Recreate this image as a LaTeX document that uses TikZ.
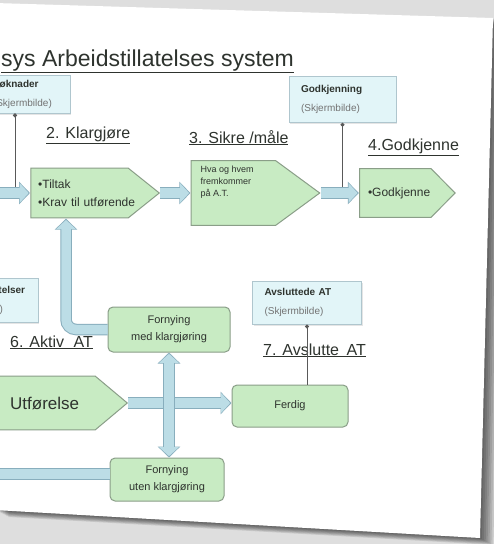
\documentclass[tikz,border=0pt]{standalone}
\usepackage{fontspec}
\setmainfont{Liberation Sans}
\usetikzlibrary{positioning, arrows.meta, calc, shadows}

\definecolor{greenfill}{HTML}{C8EBC3}
\definecolor{greenedge}{HTML}{8A9E88}
\definecolor{bluefill}{HTML}{E2F5F8}
\definecolor{blueedge}{HTML}{AFC6CE}
\definecolor{arrowfill}{HTML}{BCDDE6}
\definecolor{arrowedge}{HTML}{88AEBD}
\definecolor{inkgray}{HTML}{2E332E}

% pentagon drawn inside the node box, tip depth as argument
\newcommand{\pentapath}[1]{%
  ([shift={(0.6pt,-0.6pt)}]path picture bounding box.north west) --
  ([shift={(-#1,-0.6pt)}]path picture bounding box.north east) --
  ([xshift=-0.9pt]path picture bounding box.east) --
  ([shift={(-#1,0.6pt)}]path picture bounding box.south east) --
  ([shift={(0.6pt,0.6pt)}]path picture bounding box.south west) -- cycle}

\tikzset{
  arrowbox/.style={rectangle, inner xsep=8pt, inner ysep=3pt, align=left, text=inkgray,
    font=\fontsize{12}{18}\selectfont,
    path picture={\draw[fill=greenfill, draw=greenedge, line width=1pt] \pentapath{#1};}},
  roundbox/.style={rectangle, rounded corners=5pt, fill=greenfill, draw=greenedge, line width=1pt,
    align=center, text=inkgray, font=\fontsize{11}{17}\selectfont},
  screenbox/.style={rectangle, fill=bluefill, draw=blueedge, line width=0.8pt, align=left,
    inner xsep=12pt, text width=#1, text=inkgray, font=\fontsize{10}{19}\selectfont,
    drop shadow={shadow xshift=1pt, shadow yshift=-1.5pt, opacity=0.2}},
  steplabel/.style={inner sep=0pt, text=inkgray, font=\fontsize{16}{19}\selectfont},
  dotline/.style={draw=black!65, line width=0.8pt, {Circle[length=4pt]}-},
  blockline/.style={draw=arrowfill, line width=9.5pt,
    preaction={draw=arrowedge, line width=11.5pt}},
  blockarrow/.style={draw=arrowfill, line width=9.5pt, -{Triangle[width=19pt,length=9pt]}, shorten >=1.3pt,
    preaction={draw=arrowedge, line width=11.5pt, -{Triangle[width=22pt,length=11pt]}, shorten >=0pt}},
  blockboth/.style={draw=arrowfill, line width=9.5pt, {Triangle[width=19pt,length=9pt]}-{Triangle[width=19pt,length=9pt]},
    shorten >=1.3pt, shorten <=1.3pt,
    preaction={draw=arrowedge, line width=11.5pt, {Triangle[width=22pt,length=11pt]}-{Triangle[width=22pt,length=11pt]},
      shorten >=0pt, shorten <=0pt}},
}

\newcommand{\skjerm}{{\color{black!55}(Skjermbilde)}}

\begin{document}
\begin{tikzpicture}[x=1pt, y=-1pt]
  \useasboundingbox (0,0) rectangle (494,544);
  % photo background and slide shadow
  \fill[black!13] (0,0) rectangle (494,544);
  \foreach \s in {1,...,7}
    \fill[black, opacity=0.1, shift={(\s*1.9,\s*1.0)}] (-5,3) -- (493,18) -- (480,538) -- (-5,510) -- cycle;
  \fill[white] (-5,3) -- (493,18) -- (480,538) -- (-5,510) -- cycle;

  \begin{scope}
  \clip (-5,3) -- (493,18) -- (480,538) -- (-5,510) -- cycle;

  \node[steplabel, font=\fontsize{23}{27}\selectfont, anchor=base west] (title) at (1,66) {\underline{sys Arbeidstillatelses system}};

  % top row
  \node[arrowbox=32pt, anchor=west, text width=114pt, minimum height=51pt] (tiltak) at (30,193) {•Tiltak\\•Krav til utførende};
  \node[arrowbox=45pt, right=30pt of tiltak, inner xsep=10pt, minimum width=130pt, minimum height=66pt,
        font=\fontsize{9}{12}\selectfont] (sikre)
        {\raisebox{0pt}[\height][\dimexpr\depth+22pt\relax]{\parbox{110pt}{\raggedright Hva og hvem\\fremkommer\\på A.T.}}};
  \node[arrowbox=25pt, right=38pt of sikre, inner xsep=9pt, text width=79pt, minimum height=50pt] (godk) {•Godkjenne};

  \node[screenbox=65pt, minimum height=38pt] (sok) at (25.5,94) {\textbf{Søknader}\\\skjerm};
  \node[screenbox=83pt, minimum height=46pt, above=45pt of godk, xshift=-65pt] (godkj) {\textbf{Godkjenning}\\\skjerm};

  \node[steplabel, anchor=base west] (klarg) at (46,138) {\underline{2. Klargjøre}};
  \node[steplabel, anchor=base west] (sikrel) at (189,143) {\underline{3. Sikre /måle}};
  \node[steplabel, anchor=base west] (godkl) at (368,150) {\underline{4.Godkjenne}};

  % middle and bottom
  \node[screenbox=82pt, minimum height=44pt] (arb) at (-15,300) {\textbf{Arbeidstillatelser}\\\skjerm};
  \node[roundbox, minimum width=122pt, minimum height=45pt] (fmed) at (169,329.5) {Fornying\\med klargjøring};
  \node[roundbox, minimum width=114pt, minimum height=43pt, below=105pt of fmed, xshift=-2pt] (futen) {Fornying\\uten klargjøring};
  \node[arrowbox=33pt, anchor=west, inner xsep=12pt, text width=106pt, minimum height=55pt,
        font=\fontsize{17}{20}\selectfont] (utf) at (-2,403) {Utførelse};
  \node[roundbox, minimum width=116pt, minimum height=42pt] (ferdig) at (290,406) {Ferdig};
  \node[screenbox=85pt, minimum height=43pt, above=60pt of ferdig, xshift=17pt] (avs) {\textbf{Avsluttede AT}\\\skjerm};

  \node[steplabel, anchor=base west] (aktivl) at (10,347) {\underline{6. Aktiv\hspace{5pt} AT}};
  \node[steplabel, anchor=base west] (avsl) at (263,355) {\underline{7. Avslutte\hspace{3pt} AT}};

  \coordinate (inL) at (-12,193);
  \coordinate (outL) at (-12,474);

  % thin links from the screens
  \draw[dotline] ([xshift=-10.5pt]sok.south) -- ([xshift=-10.5pt]sok.south |- inL);
  \draw[dotline] (godkj.south) -- (godkj.south |- godk.west);
  \draw[dotline] (avs.south) -- (avs.south |- ferdig.north);

  % block arrows
  \draw[blockarrow] (inL) -- (tiltak.west);
  \draw[blockarrow] (tiltak.east) -- (tiltak.east -| sikre.west);
  \draw[blockarrow] (sikre.east) -- (sikre.east -| godk.west);
  \draw[blockarrow, rounded corners=10pt] (fmed.west) -| ([xshift=36pt]tiltak.south west);
  \draw[blockarrow] (utf.east) -- (utf.east -| ferdig.west);
  \draw[blockboth] (fmed.south) -- (fmed.south |- futen.north);
  \draw[blockline] (outL) -- (outL -| futen.west);
  \end{scope}
\end{tikzpicture}
\end{document}
